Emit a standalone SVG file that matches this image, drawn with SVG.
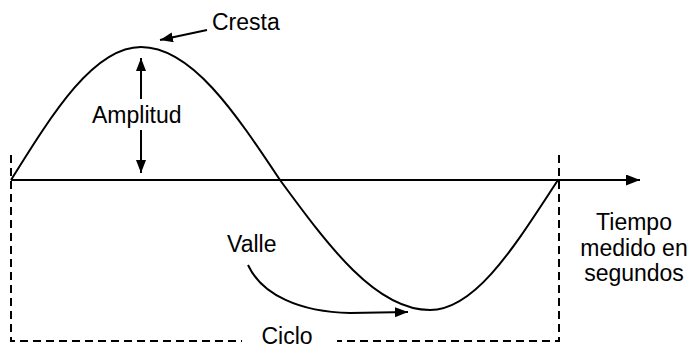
<svg xmlns="http://www.w3.org/2000/svg" width="692" height="348" viewBox="0 0 692 348">
<style>
text{font-family:"Liberation Sans",Arial,sans-serif;font-size:23px;fill:#000}
.ln{fill:none;stroke:#000;stroke-width:2}
.dash{fill:none;stroke:#000;stroke-width:2;stroke-dasharray:8 5}
</style>
<defs>
<marker id="ah" viewBox="0 0 13 10" refX="13" refY="5" markerWidth="13" markerHeight="10" markerUnits="userSpaceOnUse" orient="auto">
<path d="M0,0 L13,5 L0,10 z" fill="#000"/>
</marker>
<marker id="ahBig" viewBox="0 0 14 11" refX="14" refY="5.5" markerWidth="14" markerHeight="11" markerUnits="userSpaceOnUse" orient="auto">
<path d="M0,0 L14,5.5 L0,11 z" fill="#000"/>
</marker>
</defs>
<g id="frame">
<path class="dash" d="M11,155 V341 H242"/>
<path class="dash" d="M559,155 V341 H337"/>
</g>
<g id="wave">
<path class="ln" d="M11,180 C53.4,111.9 94,47 141,47 C191.3,47 234.7,111.9 280,180 C328.9,246.6 375.7,310 430,310 C476.3,310 516.3,243.4 558,180" stroke-width="2.2"/>
</g>
<g id="connectors">
<line class="ln" x1="11" y1="180" x2="640" y2="180" stroke-width="2.5" marker-end="url(#ahBig)"/>
<line class="ln" x1="207" y1="30" x2="160" y2="40" marker-end="url(#ah)"/>
<line class="ln" x1="141" y1="99" x2="141" y2="58" marker-end="url(#ah)"/>
<line class="ln" x1="141" y1="130" x2="141" y2="173" marker-end="url(#ah)"/>
<path class="ln" d="M248,265 C262,295 300,312 350,313 L408,312" stroke-width="1.6" marker-end="url(#ah)"/>
</g>
<g id="labels">
<text x="212" y="30">Cresta</text>
<text x="92" y="123">Amplitud</text>
<text x="227" y="252">Valle</text>
<text x="287" y="344" text-anchor="middle">Ciclo</text>
<text x="634" y="230" text-anchor="middle">Tiempo</text>
<text x="634" y="256" text-anchor="middle">medido en</text>
<text x="634" y="281" text-anchor="middle">segundos</text>
</g>
</svg>
